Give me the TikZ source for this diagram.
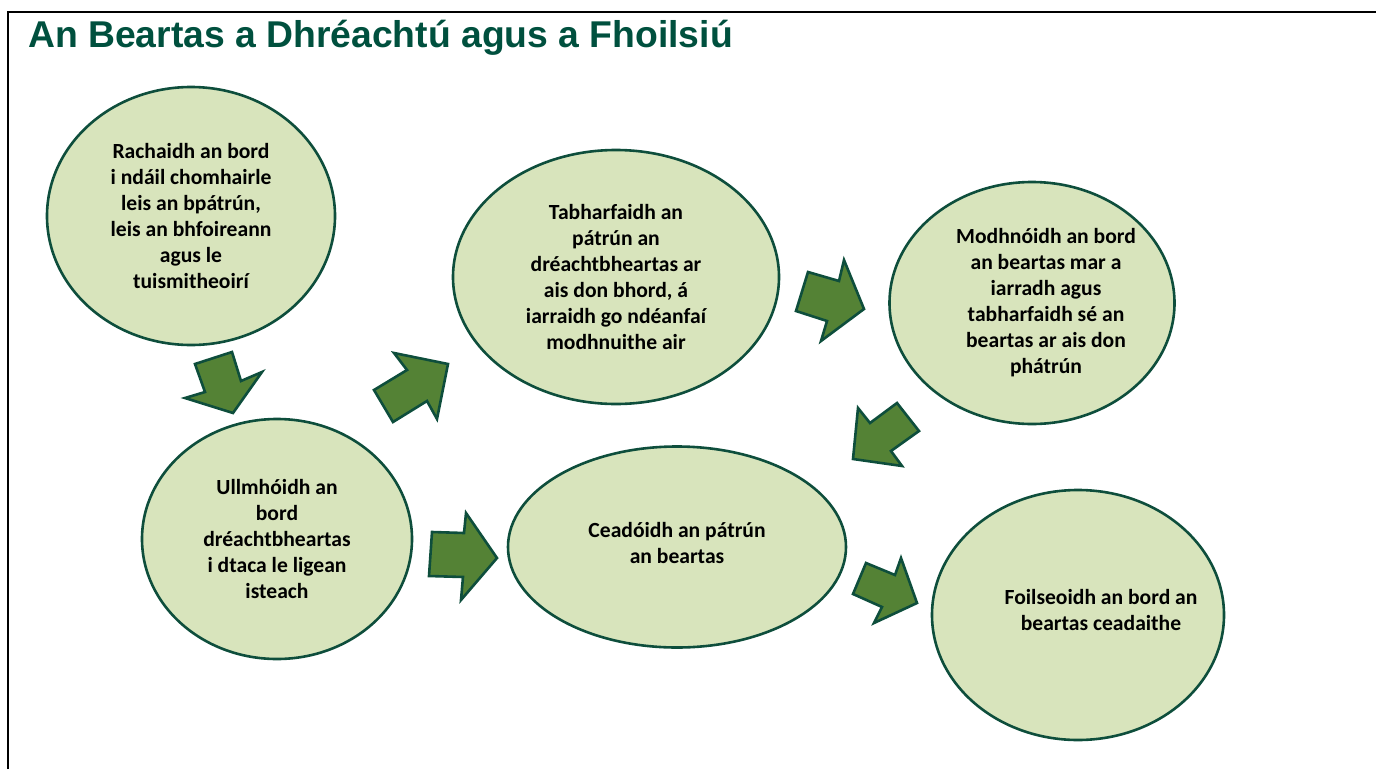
\documentclass[tikz,border=0pt]{standalone}
\usepackage{fontspec}
\setmainfont{Carlito}
\newfontfamily\titlefont{Liberation Sans}
\usetikzlibrary{shapes.geometric}
\definecolor{dkgreen}{RGB}{14,78,60}
\definecolor{titlegreen}{RGB}{0,80,62}
\definecolor{ellfill}{RGB}{216,228,188}
\definecolor{arrfill}{RGB}{84,130,53}
\tikzset{
  stepnode/.style={ellipse, draw=dkgreen, line width=2.6pt, fill=ellfill, inner sep=0pt,
    align=center, font=\bfseries\fontsize{21.6}{26}\selectfont},
  steptext/.style={inner sep=0pt, align=center, font=\bfseries\fontsize{21.6}{26}\selectfont},
  blockarrow/.style={draw=dkgreen, fill=arrfill, line width=2.6pt, line join=miter},
  framestyle/.style={draw=black, line width=2.2pt}
}
\begin{document}
\begin{tikzpicture}[x=1pt,y=-1pt]
\useasboundingbox (0,0) rectangle (1376,769);
\draw[framestyle] (8,769) -- (8,12) -- (1376,12);
\node[anchor=base west, inner sep=0pt, text=titlegreen, font=\titlefont\bfseries\fontsize{37.3}{40}\selectfont] (title) at (28,47) {An Beartas a Dhréachtú agus a Fhoilsiú};

\node[stepnode, minimum width=288pt, minimum height=258pt] (a) at (191,216)
  {Rachaidh an bord\\i ndáil chomhairle\\leis an bpátrún,\\leis an bhfoireann\\agus le\\tuismitheoirí};
\node[stepnode, minimum width=270pt, minimum height=240pt] (b) at (277,539)
  {Ullmhóidh an\\bord\\dréachtbheartas\\i dtaca le ligean\\isteach};
\node[stepnode, minimum width=326pt, minimum height=254pt] (c) at (616,277)
  {Tabharfaidh an\\pátrún an\\dréachtbheartas ar\\ais don bhord, á\\iarraidh go ndéanfaí\\modhnuithe air};
\node[stepnode, minimum width=285pt, minimum height=242pt] (d) at (1032,303) {};
\node[steptext] (dtext) at ([xshift=14pt]d.center)
  {Modhnóidh an bord\\an beartas mar a\\iarradh agus\\tabharfaidh sé an\\beartas ar ais don\\phátrún};
\node[stepnode, minimum width=338pt, minimum height=201pt] (e) at (677,547) {};
\node[steptext] (etext) at ([yshift=4pt]e.center) {Ceadóidh an pátrún\\an beartas};
\node[stepnode, minimum width=292pt, minimum height=250pt] (f) at (1078,615) {};
\node[steptext] (ftext) at ([xshift=23pt,yshift=5pt]f.center) {Foilseoidh an bord an\\beartas ceadaithe};

% block arrows
\draw[blockarrow] (195,364) -- (232,352) -- (241,381) -- (262,372) -- (233,413) -- (185,398) -- (205,392) -- cycle;
\draw[blockarrow] (448,364) -- (394,353) -- (407,370) -- (374,390) -- (393,422) -- (427,401) -- (437,419) -- cycle;
\draw[blockarrow] (808,272) -- (839,281) -- (844,260) -- (864,309) -- (821,341) -- (827,321) -- (796,311) -- cycle;
\draw[blockarrow] (858,408) -- (870,423) -- (897,403) -- (919,431) -- (891,451) -- (902,466) -- (853,459) -- cycle;
\draw[blockarrow] (432,532) -- (464,533) -- (466,513) -- (497,558) -- (461,600) -- (463,577) -- (429,576) -- cycle;
\draw[blockarrow] (866,563) -- (895,575) -- (901,558) -- (917,603) -- (874,623) -- (882,607) -- (853,594) -- cycle;
\end{tikzpicture}
\end{document}
